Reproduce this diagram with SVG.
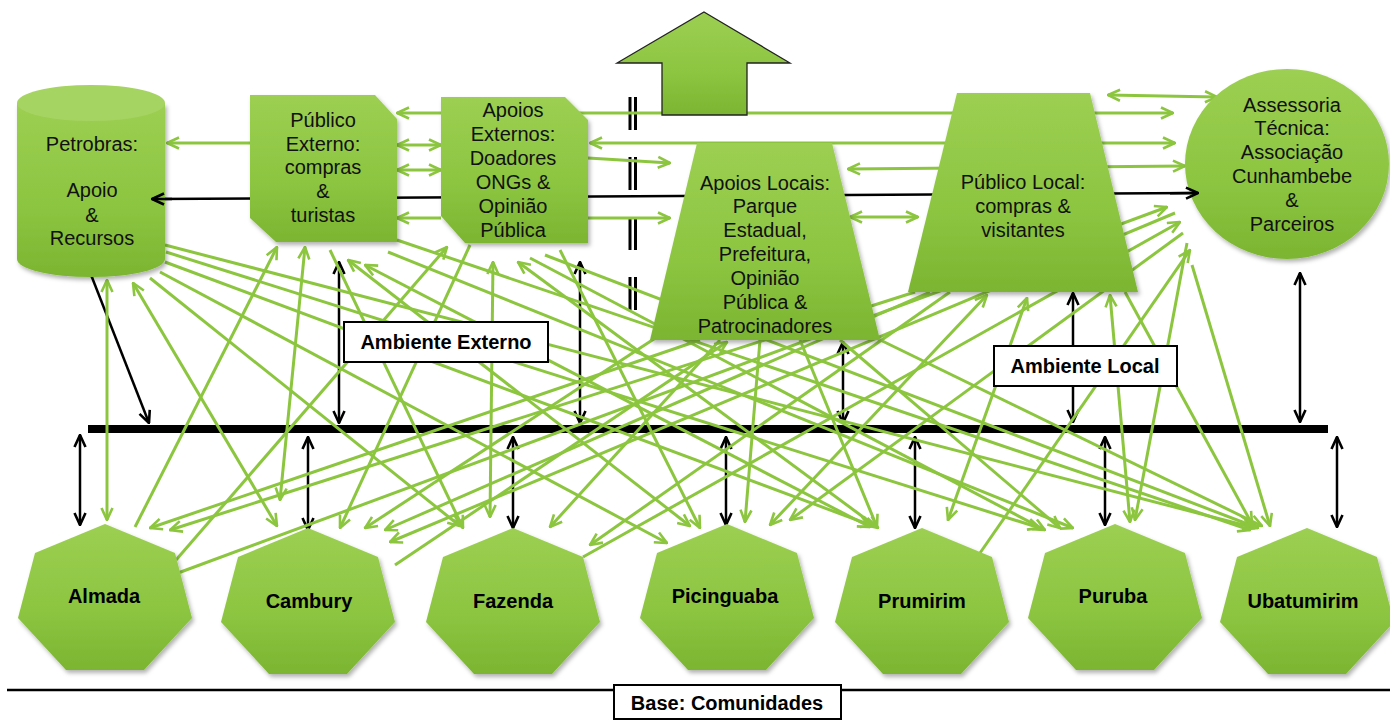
<svg xmlns="http://www.w3.org/2000/svg" width="1390" height="721" viewBox="0 0 1390 721">
<style>
.g{stroke:#8CC63F;stroke-width:3;fill:none}
.gd{marker-end:url(#ga)}
.gu{marker-start:url(#ga)}
.gb{marker-start:url(#ga);marker-end:url(#ga)}
.k{stroke:#000;stroke-width:2.5;fill:none;marker-start:url(#ka);marker-end:url(#ka)}
.k0{stroke:#000;stroke-width:2.5;fill:none}
.ks{marker-start:url(#ka)}
.ke{marker-end:url(#ka)}
.node{fill:url(#ng);filter:url(#sh)}
.t{font-family:"Liberation Sans",Arial,sans-serif;font-size:20px;fill:#111;text-anchor:middle}
.b{font-family:"Liberation Sans",Arial,sans-serif;font-size:20px;font-weight:bold;fill:#000;text-anchor:middle}
.lbl{fill:#fff;stroke:#000;stroke-width:2}
</style>
<defs>
<linearGradient id="ng" x1="0" y1="0" x2="0" y2="1">
<stop offset="0" stop-color="#9CCF52"/>
<stop offset="0.6" stop-color="#8CC540"/>
<stop offset="1" stop-color="#7BB531"/>
</linearGradient>
<filter id="sh" x="-10%" y="-10%" width="125%" height="125%">
<feDropShadow dx="2" dy="3" stdDeviation="2" flood-color="#000" flood-opacity="0.3"/>
</filter>
<marker id="ga" viewBox="0 0 14 14" refX="13" refY="7" markerWidth="14" markerHeight="14" markerUnits="userSpaceOnUse" orient="auto-start-reverse">
<path d="M1,1.5 L13,7 L1,12.5" fill="none" stroke="#8CC63F" stroke-width="2.6"/>
</marker>
<marker id="ka" viewBox="0 0 14 14" refX="13" refY="7" markerWidth="14" markerHeight="14" markerUnits="userSpaceOnUse" orient="auto-start-reverse">
<path d="M1,1.5 L13,7 L1,12.5" fill="none" stroke="#000" stroke-width="2.6"/>
</marker>
</defs>
<rect width="1390" height="721" fill="#fff"/>

<g id="bars">
<rect x="88" y="425" width="1240" height="8" fill="#000"/>
<line x1="7" y1="690" x2="1390" y2="690" stroke="#000" stroke-width="2.5"/>
<line x1="630" y1="97" x2="630" y2="313" stroke="#000" stroke-width="3" stroke-dasharray="33,27"/>
<line x1="635.5" y1="97" x2="635.5" y2="313" stroke="#000" stroke-width="3" stroke-dasharray="33,27"/>
</g>

<g id="connectors">
<line class="k0" x1="152" y1="199" x2="1198" y2="193"/>
<line class="k" x1="86" y1="262" x2="149" y2="423"/>
<line class="k" x1="339" y1="262" x2="339" y2="423"/>
<line class="k" x1="580" y1="262" x2="580" y2="423"/>
<line class="k" x1="843" y1="342" x2="843" y2="423"/>
<line class="k" x1="1073" y1="293" x2="1073" y2="422"/>
<line class="k" x1="1300" y1="273" x2="1300" y2="422"/>
<line class="k" x1="80" y1="435" x2="80" y2="525"/>
<line class="k" x1="308" y1="437" x2="308" y2="530"/>
<line class="k" x1="513" y1="437" x2="513" y2="528"/>
<line class="k" x1="726" y1="437" x2="726" y2="525"/>
<line class="k" x1="915" y1="437" x2="915" y2="528"/>
<line class="k" x1="1105" y1="437" x2="1105" y2="525"/>
<line class="k" x1="1337" y1="437" x2="1337" y2="527"/>

<line class="g gb" x1="397" y1="113" x2="1173" y2="113"/>
<line class="g gd" x1="250" y1="143" x2="167" y2="143"/>
<line class="g gb" x1="397" y1="145" x2="441" y2="145"/>
<line class="g gb" x1="397" y1="170" x2="441" y2="170"/>
<line class="g gd" x1="441" y1="218" x2="397" y2="218"/>
<line class="g gb" x1="590" y1="143" x2="1175" y2="143"/>
<line class="g gd" x1="588" y1="158" x2="670" y2="163"/>
<line class="g gd" x1="588" y1="218" x2="670" y2="218"/>
<line class="g gb" x1="848" y1="169" x2="1185" y2="166"/>
<line class="g gb" x1="850" y1="217" x2="918" y2="217"/>
<line class="g gb" x1="1108" y1="95" x2="1217" y2="97"/>

<line class="g gb" x1="107" y1="280" x2="107" y2="520"/>
<line class="g gb" x1="133" y1="283" x2="277" y2="526"/>
<line class="g gd" x1="150" y1="278" x2="460" y2="526"/>
<line class="g gd" x1="160" y1="272" x2="667" y2="543"/>
<line class="g gd" x1="165" y1="262" x2="873" y2="526"/>
<line class="g gd" x1="166" y1="252" x2="1040" y2="528"/>
<line class="g gd" x1="165" y1="245" x2="1255" y2="528"/>
<line class="g gu" x1="277" y1="247" x2="135" y2="527"/>
<line class="g gb" x1="305" y1="247" x2="280" y2="500"/>
<line class="g gd" x1="330" y1="250" x2="463" y2="528"/>
<line class="g gb" x1="348" y1="260" x2="690" y2="526"/>
<line class="g gb" x1="365" y1="265" x2="870" y2="527"/>
<line class="g gd" x1="388" y1="252" x2="1073" y2="528"/>
<line class="g gd" x1="397" y1="240" x2="1250" y2="530"/>
<line class="g gu" x1="447" y1="247" x2="176" y2="560"/>
<line class="g gd" x1="470" y1="245" x2="340" y2="528"/>
<line class="g gb" x1="493" y1="262" x2="490" y2="517"/>
<line class="g gd" x1="560" y1="250" x2="700" y2="528"/>
<line class="g gb" x1="518" y1="262" x2="878" y2="528"/>
<line class="g gd" x1="530" y1="258" x2="1045" y2="530"/>
<line class="g gd" x1="545" y1="255" x2="1258" y2="528"/>
<line class="g gd" x1="700" y1="340" x2="150" y2="528"/>
<line class="g gd" x1="660" y1="335" x2="365" y2="528"/>
<line class="g gu" x1="727" y1="342" x2="395" y2="565"/>
<line class="g gd" x1="720" y1="340" x2="550" y2="527"/>
<line class="g gd" x1="760" y1="340" x2="745" y2="522"/>
<line class="g gd" x1="800" y1="340" x2="877" y2="527"/>
<line class="g gd" x1="840" y1="340" x2="1060" y2="528"/>
<line class="g gd" x1="870" y1="335" x2="1262" y2="526"/>
<line class="g gd" x1="915" y1="292" x2="170" y2="530"/>
<line class="g gd" x1="930" y1="292" x2="385" y2="530"/>
<line class="g gd" x1="950" y1="292" x2="590" y2="545"/>
<line class="g gb" x1="987" y1="295" x2="770" y2="525"/>
<line class="g gb" x1="1027" y1="298" x2="948" y2="520"/>
<line class="g gb" x1="1110" y1="295" x2="1130" y2="522"/>
<line class="g gd" x1="1125" y1="292" x2="1252" y2="524"/>
<line class="g gu" x1="1167" y1="207" x2="178" y2="573"/>
<line class="g gd" x1="1175" y1="213" x2="390" y2="542"/>
<line class="g gu" x1="1180" y1="222" x2="583" y2="557"/>
<line class="g gd" x1="1183" y1="233" x2="790" y2="520"/>
<line class="g gu" x1="1190" y1="250" x2="980" y2="553"/>
<line class="g gd" x1="1187" y1="243" x2="1135" y2="520"/>
<line class="g gd" x1="1192" y1="265" x2="1270" y2="526"/>
</g>

<g id="up-arrow">
<polygon points="704,12 790,63 747,63 747,115 662,115 662,63 617,63" fill="url(#ng)" stroke="#222" stroke-width="1.3"/>
</g>

<g id="petrobras">
<path class="node" d="M17,103 L17,259 A74,18 0 0 0 165,259 L165,103 Z"/>
<ellipse cx="91" cy="103" rx="74" ry="18" fill="#A6D462"/>
<text class="t" x="92" y="151">Petrobras:</text>
<text class="t" x="92" y="197">Apoio</text>
<text class="t" x="92" y="222">&amp;</text>
<text class="t" x="92" y="245">Recursos</text>
</g>

<g id="publico-externo">
<path class="node" d="M250,95 L375,95 L397,119 L397,242 L276,242 L250,218 Z"/>
<text class="t" x="323" y="127">Público</text>
<text class="t" x="323" y="151">Externo:</text>
<text class="t" x="323" y="174">compras</text>
<text class="t" x="323" y="198">&amp;</text>
<text class="t" x="323" y="222">turistas</text>
</g>

<g id="apoios-externos">
<path class="node" d="M441,97 L565,97 L588,120 L588,243 L465,243 L441,216 Z"/>
<text class="t" x="513" y="117">Apoios</text>
<text class="t" x="513" y="141">Externos:</text>
<text class="t" x="513" y="165">Doadores</text>
<text class="t" x="513" y="189">ONGs &amp;</text>
<text class="t" x="513" y="213">Opinião</text>
<text class="t" x="513" y="237">Pública</text>
</g>

<g id="apoios-locais">
<polygon class="node" points="697,143 832,143 880,340 650,340"/>
<text class="t" x="765" y="190">Apoios Locais:</text>
<text class="t" x="765" y="213">Parque</text>
<text class="t" x="765" y="237">Estadual,</text>
<text class="t" x="765" y="261">Prefeitura,</text>
<text class="t" x="765" y="285">Opinião</text>
<text class="t" x="765" y="309">Pública &amp;</text>
<text class="t" x="765" y="333">Patrocinadores</text>
</g>

<g id="publico-local">
<polygon class="node" points="957,93 1090,93 1138,292 908,292"/>
<text class="t" x="1023" y="189">Público Local:</text>
<text class="t" x="1023" y="213">compras &amp;</text>
<text class="t" x="1023" y="237">visitantes</text>
</g>

<g id="assessoria">
<ellipse class="node" cx="1287" cy="164" rx="102" ry="95"/>
<text class="t" x="1292" y="112">Assessoria</text>
<text class="t" x="1292" y="135">Técnica:</text>
<text class="t" x="1292" y="159">Associação</text>
<text class="t" x="1292" y="183">Cunhambebe</text>
<text class="t" x="1292" y="207">&amp;</text>
<text class="t" x="1292" y="231">Parceiros</text>
</g>

<g id="end-heads">
<line class="k0 ks" x1="152" y1="199" x2="172" y2="199"/>
<line class="k0 ke" x1="1170" y1="193.2" x2="1198" y2="193"/>
</g>

<g id="ambiente-externo">
<rect class="lbl" x="344" y="322" width="204" height="40"/>
<text class="b" x="446" y="349">Ambiente Externo</text>
</g>
<g id="ambiente-local">
<rect class="lbl" x="994" y="346" width="183" height="40"/>
<text class="b" x="1085" y="373">Ambiente Local</text>
</g>

<g id="almada">
<path class="node" transform="translate(105,524)" d="M0,0 L70,29 L87,94 L39,146 L-39,146 L-87,94 L-70,29 Z"/>
<text class="b" x="104" y="603" font-size="19">Almada</text>
</g>
<g id="cambury">
<path class="node" transform="translate(308,528)" d="M0,0 L70,29 L87,94 L39,146 L-39,146 L-87,94 L-70,29 Z"/>
<text class="b" x="309" y="608" font-size="19">Cambury</text>
</g>
<g id="fazenda">
<path class="node" transform="translate(513,528)" d="M0,0 L70,29 L87,94 L39,146 L-39,146 L-87,94 L-70,29 Z"/>
<text class="b" x="513" y="608" font-size="19">Fazenda</text>
</g>
<g id="picinguaba">
<path class="node" transform="translate(727,524)" d="M0,0 L70,29 L87,94 L39,146 L-39,146 L-87,94 L-70,29 Z"/>
<text class="b" x="725" y="603" font-size="19">Picinguaba</text>
</g>
<g id="prumirim">
<path class="node" transform="translate(922,528)" d="M0,0 L70,29 L87,94 L39,146 L-39,146 L-87,94 L-70,29 Z"/>
<text class="b" x="922" y="608" font-size="19">Prumirim</text>
</g>
<g id="puruba">
<path class="node" transform="translate(1115,524)" d="M0,0 L70,29 L87,94 L39,146 L-39,146 L-87,94 L-70,29 Z"/>
<text class="b" x="1113" y="603" font-size="19">Puruba</text>
</g>
<g id="ubatumirim">
<path class="node" transform="translate(1307,528)" d="M0,0 L70,29 L87,94 L39,146 L-39,146 L-87,94 L-70,29 Z"/>
<text class="b" x="1303" y="608" font-size="19">Ubatumirim</text>
</g>

<g id="base-comunidades">
<rect class="lbl" x="614" y="685" width="227" height="34"/>
<text class="b" x="727" y="710" font-size="19">Base: Comunidades</text>
</g>
</svg>
